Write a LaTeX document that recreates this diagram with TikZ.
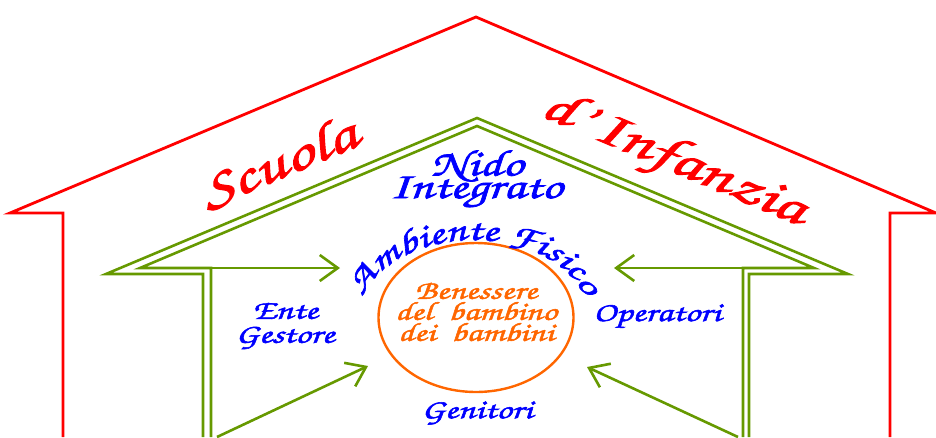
\documentclass[tikz,border=0pt]{standalone}
\usepackage{fontspec}
\newfontfamily\scr[FakeStretch=1.4,FakeBold=2]{TeX Gyre Chorus}
\usetikzlibrary{arrows.meta,shapes.geometric,decorations.text}
\definecolor{hred}{HTML}{FF0000}
\definecolor{hgreen}{HTML}{669900}
\definecolor{hblue}{HTML}{0000FF}
\definecolor{horange}{HTML}{FF6600}
\tikzset{
  redwall/.style={draw=hred,line width=2.8pt,line join=miter},
  greenwall/.style={draw=hgreen,line width=2.6pt,line join=miter},
  greenarrow/.style={draw=hgreen,line width=2.6pt,-{Straight Barb[length=18pt,width=26pt,line width=2.6pt]}},
  bigblue/.style={text=hblue,font=\scr\fontsize{37}{30}\selectfont,inner sep=0pt},
  smallblue/.style={text=hblue,font=\scr\fontsize{27}{24}\selectfont,inner sep=0pt,align=center},
  orangetxt/.style={text=horange,font=\scr\fontsize{26}{21}\selectfont,inner sep=0pt,align=center},
  redtxt/.style={text=hred,font=\scr\fontsize{51}{50}\selectfont,inner sep=0pt},
}
\begin{document}
\begin{tikzpicture}[x=1pt,y=-1pt]
\useasboundingbox (0,0) rectangle (936,437);
% red outer house
\coordinate (rLb) at (63,437);
\coordinate (rLw) at (63,213);
\coordinate (rLe) at (10,213);
\coordinate (rTop) at (476,17);
\coordinate (rRe) at (936,213);
\coordinate (rRw) at (890,213);
\coordinate (rRb) at (890,437);
\draw[redwall] (rLb) -- (rLw) -- (rLe) -- (rTop) -- (rRe) -- (rRw) -- (rRb);
% green outer line
\coordinate (gLb) at (203,437);
\coordinate (gLw) at (203,274);
\coordinate (gLe) at (106,274);
\coordinate (gTop) at (477,118);
\coordinate (gRe) at (848,274);
\coordinate (gRw) at (749,274);
\coordinate (gRb) at (749,437);
\draw[greenwall] (gLb) -- (gLw) -- (gLe) -- (gTop) -- (gRe) -- (gRw) -- (gRb);
% green inner line
\coordinate (iLb) at (211,437);
\coordinate (iLw) at (211,268);
\coordinate (iLe) at (140,268);
\coordinate (iTop) at (477,126);
\coordinate (iRe) at (814,268);
\coordinate (iRw) at (743,268);
\coordinate (iRb) at (743,437);
\draw[greenwall] (iLb) -- (iLw) -- (iLe) -- (iTop) -- (iRe) -- (iRw) -- (iRb);
% centre ellipse
\node[ellipse,draw=horange,line width=2.4pt,minimum width=195pt,minimum height=149pt,inner sep=0pt] (core) at (476,317.5) {};
\node[orangetxt] (ben) at (476,312) {Benessere\\del\ \ bambino\\dei\ \ bambini};
% arrows
\coordinate (tipL) at (340,268);
\coordinate (tipR) at (614,268);
\coordinate (srcLL) at (217,437);
\coordinate (tipLL) at (368,366);
\coordinate (srcRL) at (738,437);
\coordinate (tipRL) at (587,367);
\draw[greenarrow] (iLe) -- (tipL);
\draw[greenarrow] (iRe) -- (tipR);
\draw[greenarrow] (srcLL) -- (tipLL);
\draw[greenarrow] (srcRL) -- (tipRL);
% texts
\node[redtxt,rotate=22.8] (scuola) at (278,163) {Scuola};
\node[redtxt,rotate=-23] (infanzia) at (673,160) {d’\,Infanzia};
\node[bigblue] (nido) at (477,166) {Nido};
\node[bigblue] (integrato) at (476,192) {Integrato};
\node[smallblue] (ente) at (285,326) {Ente\\Gestore};
\node[smallblue] (operatori) at (657,316) {Operatori};
\node[smallblue] (genitori) at (477,413) {Genitori};
\path[decorate,decoration={text along path,text align=center,
  text={|\scr\fontsize{33}{33}\selectfont\color{hblue}|Ambiente Fisico}}]
  (474,318) ++(-115,0) arc[start angle=180,end angle=360,x radius=115,y radius=78];
\end{tikzpicture}
\end{document}
